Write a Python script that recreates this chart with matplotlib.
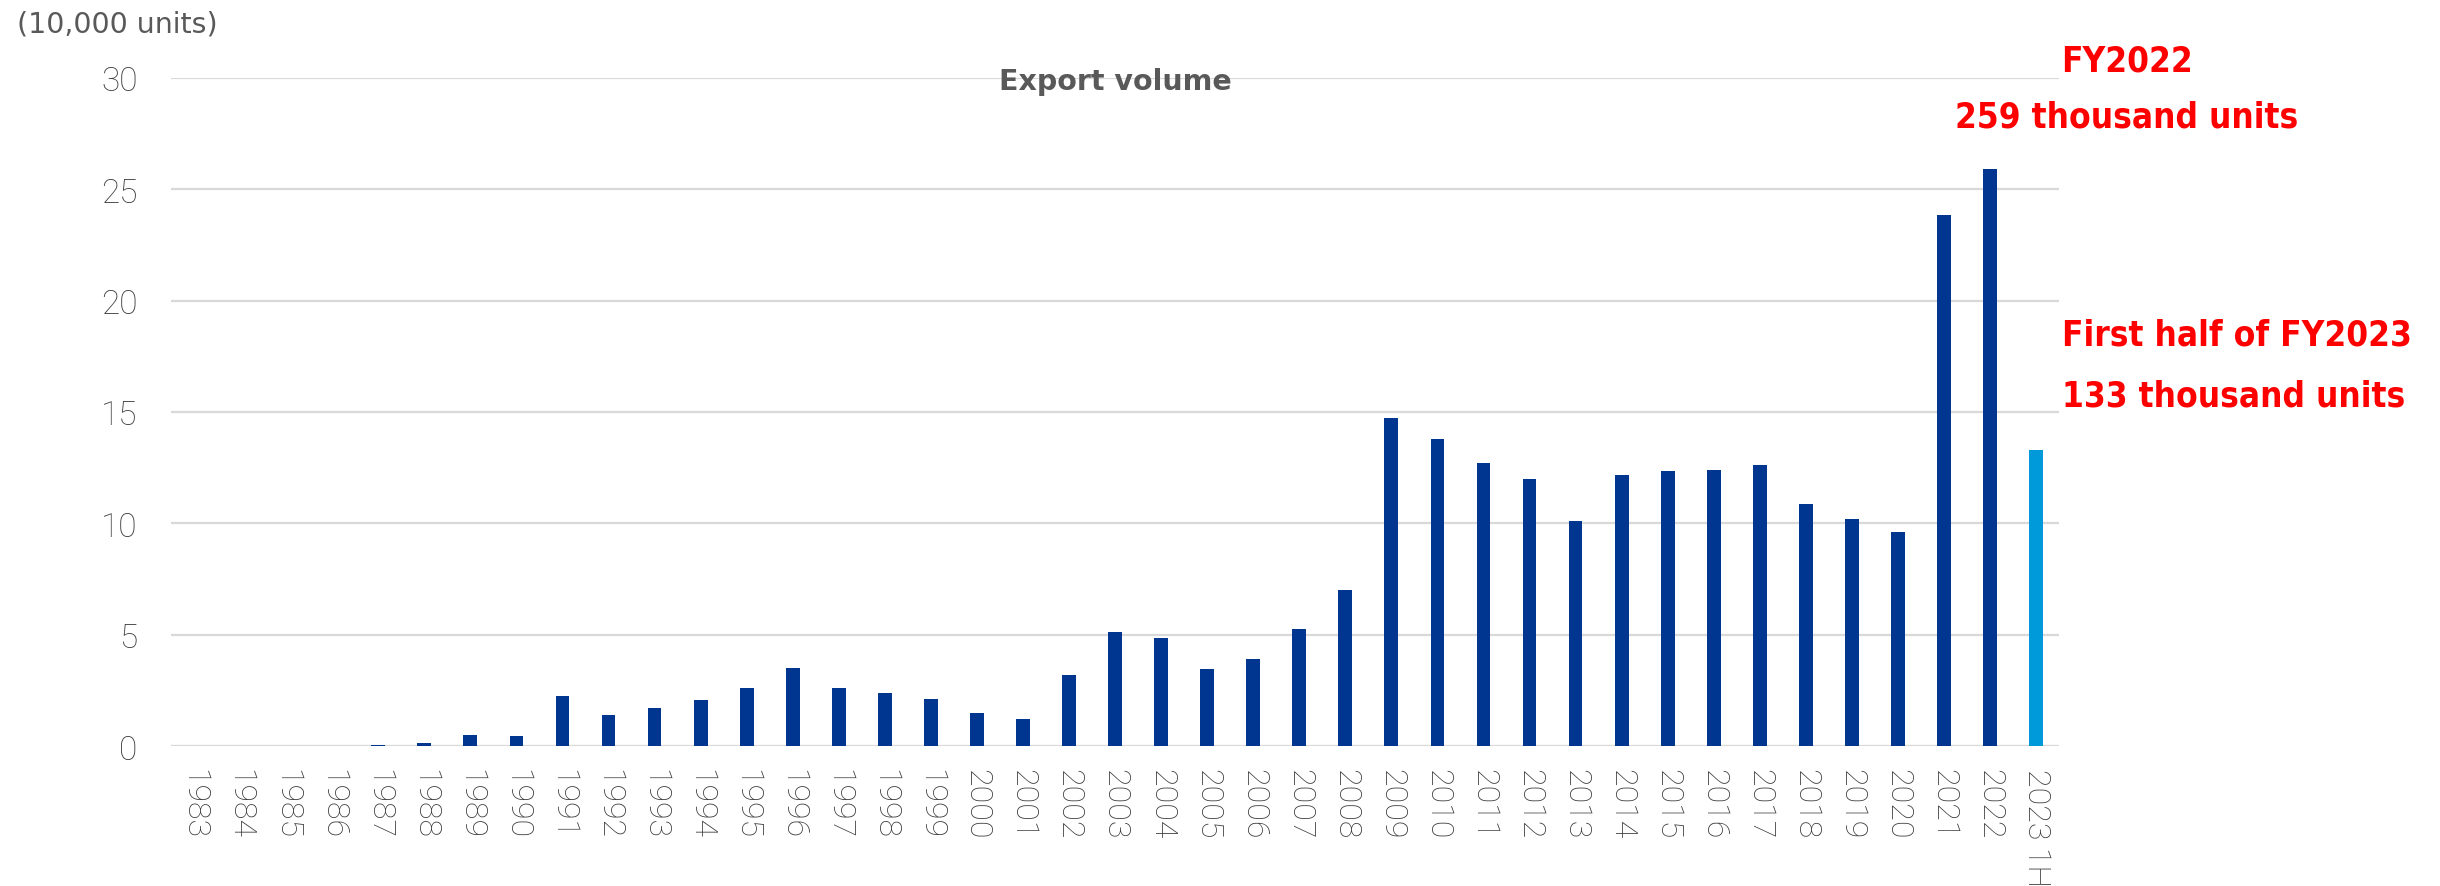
import matplotlib.pyplot as plt
import numpy as np

years = ['1983', '1984', '1985', '1986', '1987', '1988', '1989', '1990',
         '1991', '1992', '1993', '1994', '1995', '1996', '1997', '1998',
         '1999', '2000', '2001', '2002', '2003', '2004', '2005', '2006',
         '2007', '2008', '2009', '2010', '2011', '2012', '2013', '2014',
         '2015', '2016', '2017', '2018', '2019', '2020', '2021', '2022',
         '2023 1H']
volume = [0, 0, 0, 0, 0.05, 0.15, 0.5, 0.45,
          2.25, 1.4, 1.7, 2.05, 2.6, 3.5, 2.6, 2.4,
          2.1, 1.5, 1.2, 3.2, 5.1, 4.85, 3.45, 3.9,
          5.25, 7.0, 14.75, 13.8, 12.7, 12.0, 10.1, 12.15,
          12.35, 12.4, 12.6, 10.85, 10.2, 9.6, 23.85, 25.9,
          13.3]
yticks = [0, 5, 10, 15, 20, 25, 30]

navy = '#00368F'
light = '#009ADA'
gray = '#595959'
red = '#FF0000'

fig = plt.figure(figsize=(24.4, 8.87), dpi=100, facecolor='white')
ax = fig.add_axes([0.0701, 0.1578, 0.7738, 0.7532])

x = np.arange(len(years))
colors = [navy] * (len(years) - 1) + [light]
ax.bar(x, volume, width=0.3, color=colors, zorder=3)

ax.set_xlim(-0.5, len(years) - 0.5)
ax.set_ylim(0, 30)
ax.set_yticks(yticks)
ax.yaxis.grid(True, color='#D9D9D9', linewidth=1.6, zorder=0)
ax.axhline(0, color='#D9D9D9', linewidth=2.2, zorder=1)
for s in ax.spines.values():
    s.set_visible(False)

tickfont = ['Roboto', 'DejaVu Sans']
tickcolor = '#3c3c3c'
ax.set_xticks(x)
ax.set_xticklabels(years, rotation=-90, fontsize=23, color=tickcolor,
                   family=tickfont, fontweight='light')
ax.tick_params(axis='x', length=0, pad=16)
ax.tick_params(axis='y', length=0, pad=24, labelsize=24, labelcolor=tickcolor)
for lbl in ax.get_yticklabels():
    lbl.set_family(tickfont)
    lbl.set_fontweight('light')

ax.text(0.5, 1.0 - 0.005, 'Export volume', transform=ax.transAxes,
        ha='center', va='center', fontsize=20.5, fontweight='bold', color=gray)
fig.text(17 / 2440, 1 - 25 / 887, '(10,000 units)', ha='left', va='center',
         fontsize=20.5, color=gray, family='DejaVu Sans')

# red notes: condensed bold, squeezed to the widths of the original
narrow = dict(fontweight='bold', color=red, family='DejaVu Sans',
              fontstretch='condensed', fontsize=30, va='center')
notes = [
    ('FY2022', 2127, 62, 'center', 132),
    ('259 thousand units', 2127, 117, 'center', 376),
    ('First half of FY2023', 2062, 335, 'left', 372),
    ('133 thousand units', 2062, 397, 'left', 372),
]
items = []
for txt, px, py, ha, w in notes:
    t = fig.text(px / 2440, 1 - py / 887, txt, ha=ha, **narrow)
    items.append((t, w))

fig.canvas.draw()
r = fig.canvas.get_renderer()
scale = min(w / t.get_window_extent(r).width for t, w in items)
for t, w in items:
    t.set_fontsize(30 * scale)

fig.savefig('out.png', dpi=100, facecolor='white')
